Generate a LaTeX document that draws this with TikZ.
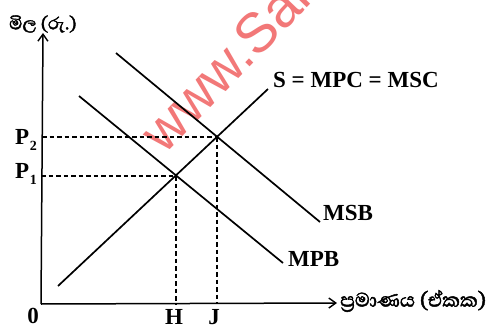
\documentclass[tikz,border=0pt]{standalone}
\usepackage{fontspec}
\setmainfont{Liberation Serif}
\newfontfamily\sinfont[Script=Sinhala,FakeBold=1.8]{Abhaya Libre}
\newfontfamily\wmfont{Liberation Sans}
\usetikzlibrary{arrows.meta}
\definecolor{wmred}{RGB}{242,120,120}
\tikzset{
  curve/.style={line width=1.7pt},
  axisline/.style={line width=1.5pt,-{Straight Barb[length=7pt,width=10pt,line width=1.4pt]}},
  guide/.style={line width=1.4pt,dash pattern=on 4.5pt off 3pt},
  lbl/.style={font=\fontsize{23}{25}\selectfont\bfseries,inner sep=0pt},
  sinlbl/.style={font=\sinfont\fontsize{22}{24}\selectfont,inner sep=0pt},
}
\begin{document}
\begin{tikzpicture}[x=1pt,y=-1pt]
\useasboundingbox (0,0) rectangle (491,327);
\fill[white] (0,0) rectangle (491,327);
% watermark
\begin{scope}
\clip (0,0) rectangle (491,327);
\node[text=wmred,font=\wmfont\fontsize{56}{56}\selectfont,rotate=46,anchor=base west,inner sep=0pt] (wm) at (164,156) {www.Sar};
\end{scope}
% axes
\coordinate (O) at (41,304);
\coordinate (Ytop) at (43,33);
\coordinate (Xend) at (337,303);
\draw[axisline] (O) -- (Ytop);
\draw[axisline] (O) -- (Xend);
% curves
\coordinate (Sa) at (58,286);
\coordinate (Sb) at (268,89);
\coordinate (MSBa) at (116,53);
\coordinate (MSBb) at (320,222);
\coordinate (MPBa) at (79,96);
\coordinate (MPBb) at (283,263);
\coordinate (E1) at (176,176);
\coordinate (E2) at (217,137);
\coordinate (P1y) at (41,176);
\coordinate (P2y) at (42,137);
\coordinate (Hx) at (176,304);
\coordinate (Jx) at (217,304);
\draw[guide] (P2y) -- (E2);
\draw[guide] (P1y) -- (E1);
\draw[guide] (E1) -- (Hx);
\draw[guide] (E2) -- (Jx);
\draw[curve] (Sa) -- (Sb);
\draw[curve] (MSBa) -- (MSBb);
\draw[curve] (MPBa) -- (MPBb);
% labels
\node[lbl,anchor=west] (Slbl) at (273,80) {S = MPC = MSC};
\node[lbl,anchor=west] (MSBlbl) at (323,213) {MSB};
\node[lbl,anchor=west] (MPBlbl) at (288,259) {MPB};
\node[lbl] (P2lbl) at (26,140) {P\kern0.5pt\raisebox{-6pt}{\fontsize{14}{14}\selectfont 2}};
\node[lbl] (P1lbl) at (26,174) {P\kern0.5pt\raisebox{-6pt}{\fontsize{14}{14}\selectfont 1}};
\node[lbl,anchor=north] (Hlbl) at (174,309) {H};
\node[lbl,anchor=north] (Jlbl) at (214,309) {J};
\node[lbl] (Olbl) at (33,316) {0};
\node[sinlbl,anchor=west] (ylbl) at (9,24) {මිල (රු.)};
\node[sinlbl,anchor=west,font=\sinfont\fontsize{25}{27}\selectfont] (xlbl) at (340,301) {ප්^^^^200dරමාණය (ඒකක)};
\end{tikzpicture}
\end{document}
